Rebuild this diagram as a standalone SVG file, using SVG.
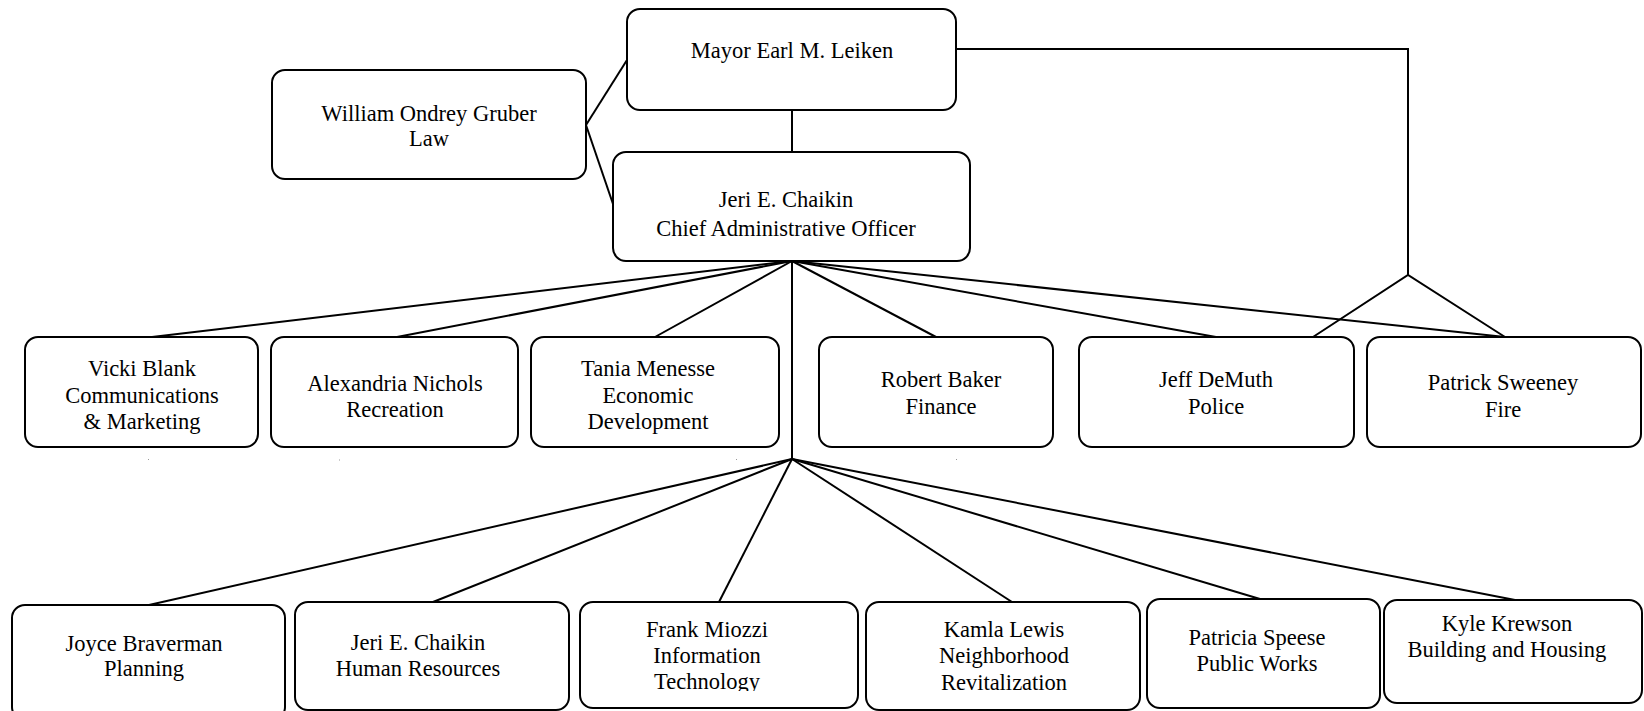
<svg xmlns="http://www.w3.org/2000/svg" width="1644" height="711" viewBox="0 0 1644 711">
<defs>
<style>
.box{fill:#fff;stroke:#000;stroke-width:2}
.ln{fill:none;stroke:#000;stroke-width:2}
text{font-family:"Liberation Serif","Times New Roman",serif;font-size:22.5px;fill:#000;text-anchor:middle}
.spk{stroke:#999;stroke-width:1}
</style>
<clipPath id="clipFrank"><rect x="580" y="600" width="280" height="91"/></clipPath>
</defs>
<rect width="1644" height="711" fill="#fff"/>
<g id="connectors">
<line class="ln" x1="586" y1="125" x2="627" y2="60"/>
<line class="ln" x1="586" y1="125" x2="613" y2="204"/>
<line class="ln" x1="792" y1="110" x2="792" y2="152"/>
<polyline class="ln" points="956,49 1408,49 1408,275"/>
<polyline class="ln" points="1313,337 1408,275 1505,337"/>
<line class="ln" x1="792" y1="261" x2="152" y2="337"/>
<line class="ln" x1="792" y1="261" x2="397" y2="337"/>
<line class="ln" x1="792" y1="261" x2="655" y2="337"/>
<line class="ln" x1="792" y1="261" x2="936" y2="337"/>
<line class="ln" x1="792" y1="261" x2="1216" y2="337"/>
<line class="ln" x1="792" y1="261" x2="1505" y2="337"/>
<line class="ln" x1="792" y1="261" x2="792" y2="459"/>
<line class="ln" x1="792" y1="459" x2="149" y2="605"/>
<line class="ln" x1="792" y1="459" x2="433" y2="602"/>
<line class="ln" x1="792" y1="459" x2="719" y2="602"/>
<line class="ln" x1="792" y1="459" x2="1012" y2="602"/>
<line class="ln" x1="792" y1="459" x2="1260" y2="599"/>
<line class="ln" x1="792" y1="459" x2="1515" y2="600"/>
<line class="spk" x1="148" y1="460" x2="149" y2="459"/>
<line class="spk" x1="339" y1="460" x2="340" y2="460"/>
<line class="spk" x1="736" y1="460" x2="737" y2="459"/>
<line class="spk" x1="956" y1="460" x2="957" y2="459"/>
</g>
<g id="mayor">
<rect class="box" x="627" y="9" width="329" height="101" rx="13"/>
<text x="792" y="58">Mayor Earl M. Leiken</text>
</g>
<g id="law">
<rect class="box" x="272" y="70" width="314" height="109" rx="13"/>
<text x="429" y="120.5">William Ondrey Gruber</text>
<text x="429" y="146">Law</text>
</g>
<g id="cao">
<rect class="box" x="613" y="152" width="357" height="109" rx="13"/>
<text x="786" y="207">Jeri E. Chaikin</text>
<text x="786" y="236">Chief Administrative Officer</text>
</g>
<g id="vicki">
<rect class="box" x="25" y="337" width="233" height="110" rx="13"/>
<text x="142" y="375.5">Vicki Blank</text>
<text x="142" y="402.5">Communications</text>
<text x="142" y="428.5">&amp; Marketing</text>
</g>
<g id="alexandria">
<rect class="box" x="271" y="337" width="247" height="110" rx="13"/>
<text x="395" y="390.5">Alexandria Nichols</text>
<text x="395" y="417">Recreation</text>
</g>
<g id="tania">
<rect class="box" x="531" y="337" width="248" height="110" rx="13"/>
<text x="648" y="375.5">Tania Menesse</text>
<text x="648" y="402.5">Economic</text>
<text x="648" y="428.5">Development</text>
</g>
<g id="robert">
<rect class="box" x="819" y="337" width="234" height="110" rx="13"/>
<text x="941" y="387">Robert Baker</text>
<text x="941" y="413.5">Finance</text>
</g>
<g id="jeff">
<rect class="box" x="1079" y="337" width="275" height="110" rx="13"/>
<text x="1216" y="387">Jeff DeMuth</text>
<text x="1216" y="413.5">Police</text>
</g>
<g id="patrick">
<rect class="box" x="1367" y="337" width="274" height="110" rx="13"/>
<text x="1503" y="390">Patrick Sweeney</text>
<text x="1503" y="416.5">Fire</text>
</g>
<g id="joyce">
<rect class="box" x="12" y="605" width="273" height="115" rx="13"/>
<text x="144" y="650.5">Joyce Braverman</text>
<text x="144" y="676">Planning</text>
</g>
<g id="hr">
<rect class="box" x="295" y="602" width="274" height="108" rx="13"/>
<text x="418" y="650">Jeri E. Chaikin</text>
<text x="418" y="676">Human Resources</text>
</g>
<g id="frank">
<rect class="box" x="580" y="602" width="278" height="106" rx="13"/>
<g clip-path="url(#clipFrank)">
<text x="707" y="637">Frank Miozzi</text>
<text x="707" y="663">Information</text>
<text x="707" y="688.5">Technology</text>
</g>
</g>
<g id="kamla">
<rect class="box" x="866" y="602" width="274" height="108" rx="13"/>
<text x="1004" y="637">Kamla Lewis</text>
<text x="1004" y="663">Neighborhood</text>
<text x="1004" y="689.5">Revitalization</text>
</g>
<g id="patricia">
<rect class="box" x="1147" y="599" width="233" height="109" rx="13"/>
<text x="1257" y="644.5">Patricia Speese</text>
<text x="1257" y="670.5">Public Works</text>
</g>
<g id="kyle">
<rect class="box" x="1384" y="600" width="258" height="103" rx="13"/>
<text x="1507" y="631">Kyle Krewson</text>
<text x="1507" y="657">Building and Housing</text>
</g>
</svg>
